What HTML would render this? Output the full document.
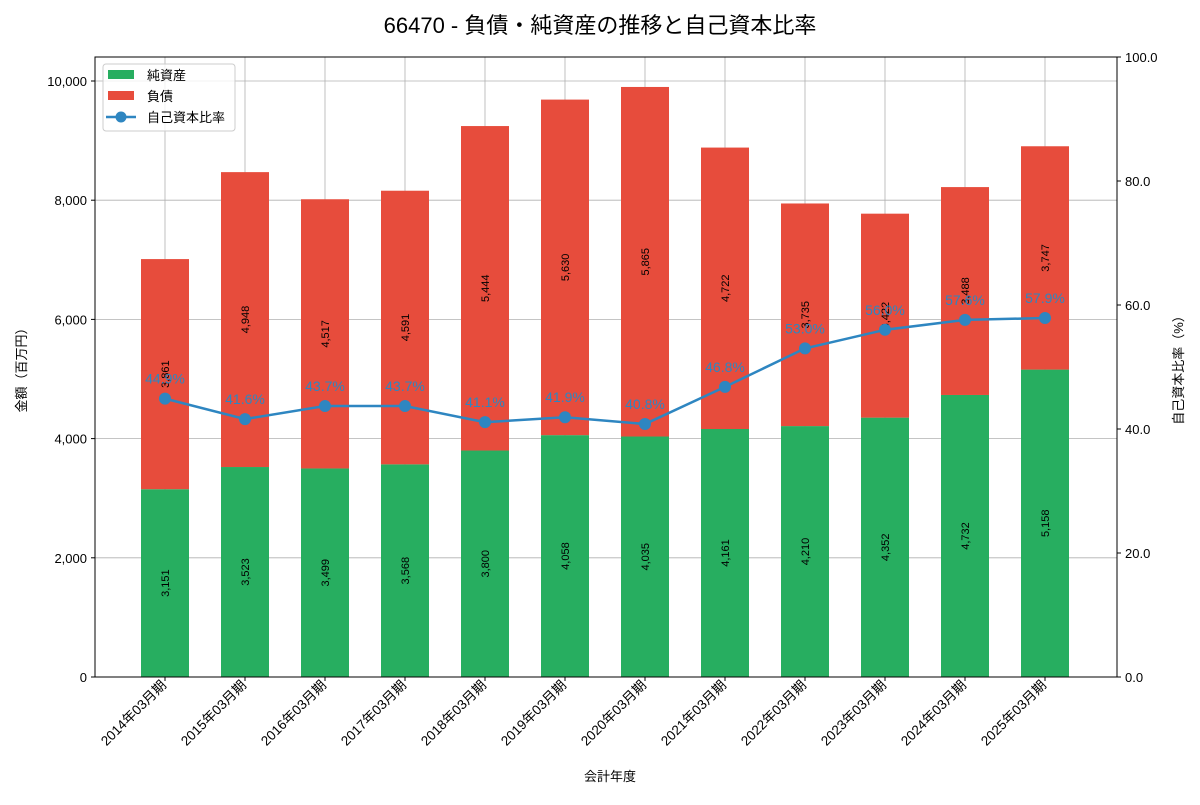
<!DOCTYPE html>
<html><head><meta charset="utf-8"><style>
body{margin:0;background:#fff;}
svg text{font-family:"Liberation Sans","Noto Sans CJK JP",sans-serif;}
</style></head><body>
<svg id="chart" width="1200" height="800" xmlns="http://www.w3.org/2000/svg">
<text x="600" y="33" text-anchor="middle" font-size="22">66470 - 負債・純資産の推移と自己資本比率</text>
<g id="grid"></g><g id="bars"></g><g id="line"></g><g id="axes"></g>
<g>
<rect x="103" y="64" width="132" height="67" fill="#fff" fill-opacity="0.8" stroke="#ccc" rx="3"/>
<rect x="108" y="70" width="26" height="9" fill="#27ae60"/>
<text x="147" y="80" font-size="13">純資産</text>
<rect x="108" y="91" width="26" height="9" fill="#e74c3c"/>
<text x="147" y="101" font-size="13">負債</text>
<line x1="106" y1="117" x2="136" y2="117" stroke="#2e86c1" stroke-width="2.5"/>
<circle cx="121" cy="117" r="5.5" fill="#2e86c1"/>
<text x="147" y="122" font-size="13">自己資本比率</text>
</g>
</svg>
<script>
const categories=["2014年03月期","2015年03月期","2016年03月期","2017年03月期","2018年03月期","2019年03月期","2020年03月期","2021年03月期","2022年03月期","2023年03月期","2024年03月期","2025年03月期"];
const equity=[3151,3523,3499,3568,3800,4058,4035,4161,4210,4352,4732,5158];
const debt=[3861,4948,4517,4591,5444,5630,5865,4722,3735,3422,3488,3747];
const ratio=[44.9,41.6,43.7,43.7,41.1,41.9,40.8,46.8,53.0,56.0,57.6,57.9];
const leftTicks=[0,2000,4000,6000,8000,10000];
const rightTicks=[0,20,40,60,80,100];
const NS="http://www.w3.org/2000/svg";
const L=95,R=1117,T=57,B=677;
const xs=i=>165+i*80;
const yL=v=>B-v*(B-81)/10000;
const yR=v=>B-v*(B-T)/100;
function mk(tag,attrs,parent,txt){const e=document.createElementNS(NS,tag);for(const k in attrs)e.setAttribute(k,attrs[k]);if(txt!==undefined)e.textContent=txt;document.getElementById(parent).appendChild(e);return e;}
const fmt=v=>v.toLocaleString('en-US');
leftTicks.forEach(v=>{const g=mk('line',{x1:L,x2:R,y1:yL(v),y2:yL(v),stroke:'#b0b0b0','stroke-width':0.8},'grid');


const t=mk('text',{x:L-8,y:yL(v)+5,'text-anchor':'end','font-size':13},'axes',fmt(v));


mk('line',{x1:L-4,x2:L,y1:yL(v),y2:yL(v),stroke:'#000'},'axes');});
rightTicks.forEach(v=>{const t=mk('text',{x:R+8,y:yR(v)+5,'font-size':13},'axes',v.toFixed(1));


mk('line',{x1:R,x2:R+4,y1:yR(v),y2:yR(v),stroke:'#000'},'axes');});
categories.forEach((c,i)=>{const x=xs(i);
const g=mk('line',{x1:x,x2:x,y1:T,y2:B,stroke:'#b0b0b0','stroke-width':0.8},'grid');


const b1=mk('rect',{x:x-24,y:yL(equity[i]),width:48,height:B-yL(equity[i]),fill:'#27ae60'},'bars');


const b2=mk('rect',{x:x-24,y:yL(equity[i]+debt[i]),width:48,height:yL(equity[i])-yL(equity[i]+debt[i]),fill:'#e74c3c'},'bars');


const y1=yL(equity[i]/2),y2=yL(equity[i]+debt[i]/2);
const l1=mk('text',{x:x+4,y:y1,'font-size':11,'text-anchor':'middle',transform:`rotate(-90 ${x+4} ${y1})`},'bars',fmt(equity[i]));


const l2=mk('text',{x:x+4,y:y2,'font-size':11,'text-anchor':'middle',transform:`rotate(-90 ${x+4} ${y2})`},'bars',fmt(debt[i]));


mk('line',{x1:x,x2:x,y1:B,y2:B+4,stroke:'#000'},'axes');
const tx=x+2,ty=B+9;
const t=mk('text',{x:tx,y:ty,'font-size':13.5,'text-anchor':'end',transform:`rotate(-45 ${tx} ${ty})`},'axes',c);

});
const ln=mk('polyline',{points:ratio.map((v,i)=>xs(i)+','+yR(v)).join(' '),fill:'none',stroke:'#2e86c1','stroke-width':2.5},'line');


ratio.forEach((v,i)=>{const c=mk('circle',{cx:xs(i),cy:yR(v),r:6,fill:'#2e86c1'},'line');


const t=mk('text',{x:xs(i),y:yR(v)-15,'font-size':14,'text-anchor':'middle',fill:'#2e86c1'},'line',v.toFixed(1)+'%');

});
mk('rect',{x:L,y:T,width:R-L,height:B-T,fill:'none',stroke:'#000','stroke-width':1},'axes');
const a=mk('text',{x:610,y:781,'font-size':13,'text-anchor':'middle'},'axes','会計年度');


const b=mk('text',{x:26,y:367,'font-size':13,'text-anchor':'middle',transform:'rotate(-90 26 367)'},'axes','金額（百万円）');


const d=mk('text',{x:1183,y:367,'font-size':13,'text-anchor':'middle',transform:'rotate(-90 1183 367)'},'axes','自己資本比率（%）');


</script>
</body></html>
